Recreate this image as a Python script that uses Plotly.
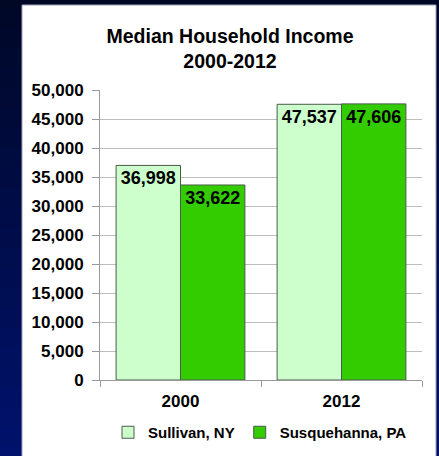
import plotly.graph_objects as go

years = ["2000", "2012"]
sullivan = [36998, 47537]
susquehanna = [33622, 47606]
series_names = ["Sullivan, NY", "Susquehanna, PA"]
y_ticks = list(range(0, 50001, 5000))
y_tick_labels = [f"{v:,}" for v in y_ticks]

FONT = "Liberation Sans, Arial, sans-serif"

fig = go.Figure()
for name, vals, color in [(series_names[0], sullivan, "#ccffcc"),
                          (series_names[1], susquehanna, "#33cc00")]:
    fig.add_trace(go.Bar(
        x=years, y=vals, name=name,
        marker=dict(color=color, line=dict(color="#4a5a4a", width=1)),
        text=[f"{v:,}" for v in vals],
        textposition="inside", insidetextanchor="end",
        textangle=0,
        textfont=dict(family=FONT, size=18, color="black", weight="bold"),
        cliponaxis=False,
    ))

# background gradient strips (slide background)
shapes = []
n = 24
top = (0, 8, 38)
bot = (0, 18, 110)
for i in range(n):
    t = i / (n - 1)
    c = tuple(int(top[k] + (bot[k] - top[k]) * t) for k in range(3))
    shapes.append(dict(type="rect", xref="paper", yref="paper",
                       x0=-0.4, x1=1.1,
                       y0=1.35 - (i + 1) * (1.35 + 0.3) / n - 0.001,
                       y1=1.35 - i * (1.35 + 0.3) / n + 0.001,
                       fillcolor="rgb(%d,%d,%d)" % c, line=dict(width=0),
                       layer="below"))
# white chart panel
L, R, T, B = 100, 422, 90, 380
W, H = R - L, B - T
shapes.append(dict(type="rect", xref="paper", yref="paper",
                   x0=(22 - L) / W, x1=(436 - L) / W,
                   y0=(B - 460) / H, y1=(B - 5) / H,
                   fillcolor="white", line=dict(color="#a0a0b8", width=1),
                   layer="below"))

fig.update_layout(
    width=439, height=456,
    margin=dict(l=L, r=439 - R, t=T, b=456 - B, autoexpand=False),
    paper_bgcolor="#000a30",
    plot_bgcolor="rgba(0,0,0,0)",
    barmode="group", bargap=0.2, bargroupgap=0,
    shapes=shapes,
    title=dict(text="Median Household Income<br>2000-2012",
               x=230 / 439, xanchor="center", y=1 - 43 / 456, yanchor="top",
               font=dict(family=FONT, size=19.5, color="black", weight="bold")),
    showlegend=True,
    legend=dict(orientation="h", x=260 / 439, xref="container", xanchor="center",
                y=(456 - 416) / 456, yref="container", yanchor="top",
                font=dict(family=FONT, size=15, color="black", weight="bold"),
                itemwidth=30, tracegroupgap=0, bgcolor="rgba(0,0,0,0)"),
    font=dict(family=FONT, color="black"),
)
fig.update_yaxes(range=[0, 50000], tickvals=y_ticks, ticktext=y_tick_labels,
                 showgrid=True, gridcolor="#bdbdbd", gridwidth=1,
                 showline=True, linecolor="#9a9a9a", linewidth=1,
                 ticks="outside", ticklen=7, tickcolor="#9a9a9a",
                 ticklabelstandoff=5,
                 tickfont=dict(family=FONT, size=17, color="black", weight="bold"),
                 zeroline=False, fixedrange=True)
fig.update_xaxes(showline=True, linecolor="#9a9a9a", linewidth=1,
                 ticks="outside", ticklen=6, tickcolor="#9a9a9a",
                 tickson="boundaries", showgrid=False, ticklabelstandoff=6,
                 tickfont=dict(family=FONT, size=17, color="black", weight="bold"))

fig.write_html("out.html", config={"displayModeBar": False},
               post_script="document.body.style.margin='0';document.body.style.overflow='hidden';")
